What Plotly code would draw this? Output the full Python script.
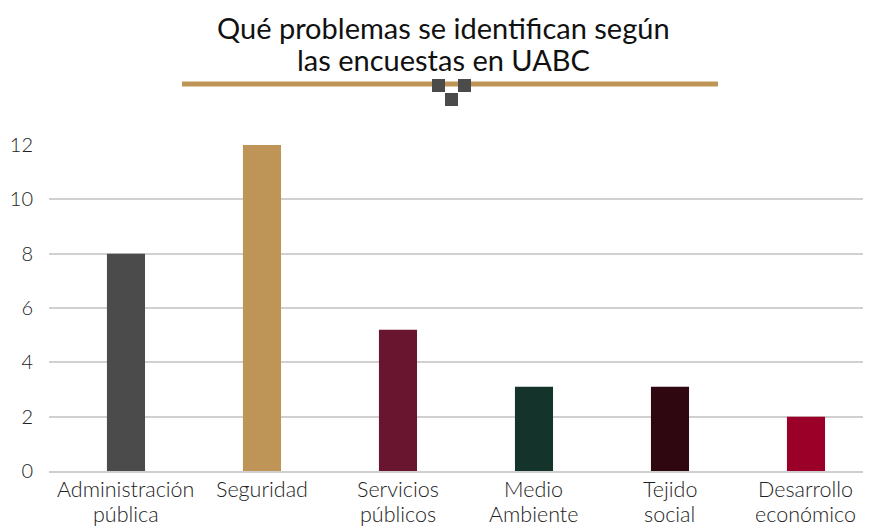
import plotly.graph_objects as go

categorias = ["Administración<br>pública", "Seguridad", "Servicios<br>públicos",
              "Medio<br>Ambiente", "Tejido<br>social", "Desarrollo<br>económico"]
valores = [8, 12, 5.2, 3.1, 3.1, 2]
colores = ["#4b4b4b", "#bf9557", "#6a1530", "#14332b", "#2e0710", "#9b0028"]
titulo = ["Qué problemas se identifican según", "las encuestas en UABC"]

fuente = "Lato"

fig = go.Figure()

fig.add_trace(go.Bar(
    x=list(range(len(categorias))),
    y=valores,
    marker=dict(color=colores, line=dict(width=0)),
    width=0.28,
))

# page is drawn with an 8px body margin, so the figure is 8px smaller
fig.update_layout(
    width=863, height=519,
    paper_bgcolor="white", plot_bgcolor="white",
    margin=dict(l=41, r=0, t=137, b=56),
    showlegend=False,
    font=dict(family=fuente, color="#222222"),
)

# title, one annotation per line to control the line spacing
for linea, ypx in zip(titulo, [27, 60]):
    fig.add_annotation(
        text=linea,
        xref="paper", yref="paper",
        x=(443 - 49) / 822, y=(471 - ypx) / 326,
        xanchor="center", yanchor="middle",
        showarrow=False,
        font=dict(size=29, family=fuente, color="#111111"),
    )

# category labels, written per line so the line spacing is tighter
for i, cat in enumerate(categorias):
    for linea, ypx in zip(cat.split("<br>"), [489, 514]):
        fig.add_annotation(
            text=linea,
            xref="x", yref="paper",
            x=i, y=(471 - ypx) / 326,
            xanchor="center", yanchor="middle",
            showarrow=False, borderpad=0,
            font=dict(size=21.5, family=fuente, color="#222222", weight=300),
        )

fig.update_xaxes(
    range=[-0.566, 5.478],
    showgrid=False,
    showticklabels=False,
    showline=True, linecolor="#cfcfcf", linewidth=2,
    ticks="",
    automargin=False,
)

fig.update_yaxes(
    range=[0, 12],
    dtick=2,
    showgrid=True, gridcolor="#d0d0d0", gridwidth=2,
    zeroline=False,
    ticks="",
    automargin=False,
    ticklabelstandoff=15,
    tickfont=dict(size=20, family=fuente, color="#222222", weight=300),
)

# decorative rule under the title
fig.add_shape(type="line", xref="paper", yref="paper",
              x0=(182 - 49) / 822, x1=(718 - 49) / 822,
              y0=(471 - 84) / 326, y1=(471 - 84) / 326,
              line=dict(color="#bf9557", width=5))
for (px0, py0) in [(432, 79), (458, 79), (445, 93)]:
    fig.add_shape(type="rect", xref="paper", yref="paper",
                  x0=(px0 - 49) / 822, x1=(px0 + 13 - 49) / 822,
                  y0=(471 - py0 - 13) / 326, y1=(471 - py0) / 326,
                  fillcolor="#4b4b4b", line=dict(width=0))

fig.write_html("out.html")
